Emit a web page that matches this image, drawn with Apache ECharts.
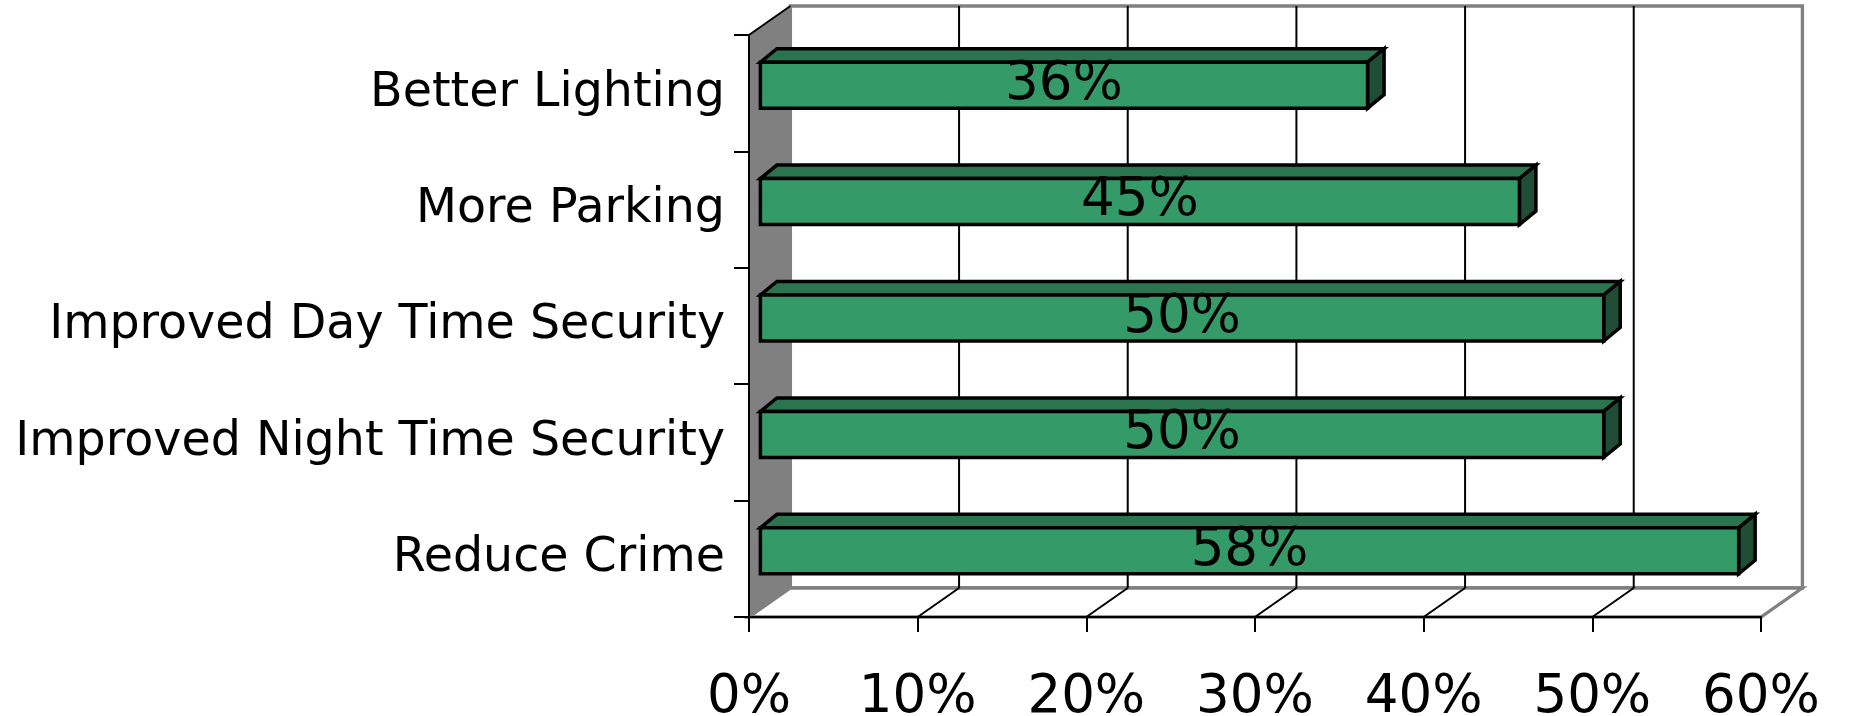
<!DOCTYPE html>
<html>
<head>
<meta charset="utf-8">
<title>Improvements wanted</title>
<script src="https://cdn.jsdelivr.net/npm/echarts@6/dist/echarts.min.js"></script>
<style>
  html, body { margin: 0; padding: 0; background: #ffffff; }
  #chart { width: 1849px; height: 716px; }
</style>
</head>
<body>
<div id="chart"></div>
<script>
// Survey answers, top to bottom
const categories = [
  'Better Lighting',
  'More Parking',
  'Improved Day Time Security',
  'Improved Night Time Security',
  'Reduce Crime'
];
// Share of respondents (%)
const shares = [36, 45, 50, 50, 58];
// Value axis ticks (%)
const xTicks = [0, 10, 20, 30, 40, 50, 60];

// Oblique projection of the 3D box (pixels)
const WALL_DX = 41.4, WALL_DY = -29;     // full depth of the plot box
const BAR_DX = 11.4, BAR_DY = -8;        // front face of each bar sits this deep
const BAR_DEPTH_DX = 16.5, BAR_DEPTH_DY = -13.5; // thickness of each bar
const BAR_RATIO = 0.395;                 // bar height / category band

const FONT = 'DejaVu Sans';
const GREEN_FRONT = '#349A68';
const GREEN_TOP = '#2A7550';
const GREEN_SIDE = '#1F4D36';
const WALL_GREY = '#808080';

const chart = echarts.init(document.getElementById('chart'), null, { renderer: 'canvas' });

function renderWalls(params, api) {
  const cs = params.coordSys;
  const L = cs.x, T = cs.y, R = cs.x + cs.width, B = cs.y + cs.height;
  const kids = [];
  // left side wall
  kids.push({
    type: 'polygon',
    shape: { points: [[L, T], [L + WALL_DX, T + WALL_DY], [L + WALL_DX, B + WALL_DY], [L, B]] },
    style: { fill: WALL_GREY, stroke: null }
  });
  // back wall
  kids.push({
    type: 'rect',
    shape: { x: L + WALL_DX, y: T + WALL_DY, width: R - L, height: B - T },
    style: { fill: '#ffffff', stroke: WALL_GREY, lineWidth: 3.3 }
  });
  // floor
  kids.push({
    type: 'polygon',
    shape: { points: [[L, B], [L + WALL_DX, B + WALL_DY], [R + WALL_DX, B + WALL_DY], [R, B]] },
    style: { fill: '#ffffff', stroke: WALL_GREY, lineWidth: 3.3 }
  });
  // gridlines on the back wall and across the floor
  const inner = xTicks.slice(1, xTicks.length - 1);
  inner.forEach(function (t) {
    const x = api.coord([t, 0])[0];
    kids.push({
      type: 'line',
      shape: { x1: x + WALL_DX, y1: T + WALL_DY, x2: x + WALL_DX, y2: B + WALL_DY },
      style: { stroke: '#000000', lineWidth: 2 }
    });
    kids.push({
      type: 'line',
      shape: { x1: x + WALL_DX, y1: B + WALL_DY, x2: x, y2: B },
      style: { stroke: '#000000', lineWidth: 2 }
    });
  });
  // top edge of the side wall
  kids.push({
    type: 'line',
    shape: { x1: L, y1: T, x2: L + WALL_DX, y2: T + WALL_DY },
    style: { stroke: '#000000', lineWidth: 2 }
  });
  return { type: 'group', children: kids };
}

function renderBar(params, api) {
  const v = api.value(0);
  const ci = api.value(1);
  const p0 = api.coord([0, ci]);
  const p1 = api.coord([v, ci]);
  const band = api.size([0, 1])[1];
  const h = band * BAR_RATIO;
  const xl = p0[0] + BAR_DX, xr = p1[0] + BAR_DX;
  const cy = p0[1] + BAR_DY;
  const yt = cy - h / 2, yb = cy + h / 2;
  const dx = BAR_DEPTH_DX, dy = BAR_DEPTH_DY;
  const edge = { stroke: '#000000', lineWidth: 3.5, lineJoin: 'miter' };
  return {
    type: 'group',
    children: [
      {
        type: 'polygon',
        shape: { points: [[xl, yt], [xr, yt], [xr + dx, yt + dy], [xl + dx, yt + dy]] },
        style: Object.assign({ fill: GREEN_TOP }, edge)
      },
      {
        type: 'polygon',
        shape: { points: [[xr, yt], [xr + dx, yt + dy], [xr + dx, yb + dy], [xr, yb]] },
        style: Object.assign({ fill: GREEN_SIDE }, edge)
      },
      {
        type: 'rect',
        shape: { x: xl, y: yt, width: xr - xl, height: yb - yt },
        style: Object.assign({ fill: GREEN_FRONT }, edge)
      },
      {
        type: 'text',
        x: (xl + xr) / 2,
        y: cy,
        style: {
          text: v + '%',
          fill: '#000000',
          font: '53px "' + FONT + '"',
          align: 'center',
          verticalAlign: 'middle'
        }
      }
    ]
  };
}

chart.setOption({
  animation: false,
  backgroundColor: '#ffffff',
  grid: {
    left: 749, right: 88, top: 35, bottom: 99,
    containLabel: false,
    outerBoundsMode: 'none'
  },
  xAxis: {
    type: 'value',
    min: 0,
    max: 60,
    interval: 10,
    z: 10,
    axisLine: { show: true, lineStyle: { color: '#000000', width: 2 } },
    axisTick: { show: true, length: 15, lineStyle: { color: '#000000', width: 2 } },
    splitLine: { show: false },
    axisLabel: {
      formatter: '{value}%',
      fontFamily: FONT,
      fontSize: 53,
      color: '#000000',
      margin: 55
    }
  },
  yAxis: {
    type: 'category',
    inverse: true,
    data: categories,
    z: 10,
    axisLine: { show: true, lineStyle: { color: '#000000', width: 2 } },
    axisTick: { show: true, length: 15, lineStyle: { color: '#000000', width: 2 } },
    splitLine: { show: false },
    axisLabel: {
      fontFamily: FONT,
      fontSize: 47.5,
      color: '#000000',
      margin: 24,
      padding: [16, 0, 0, 0]
    }
  },
  series: [
    {
      type: 'custom',
      name: 'walls',
      z: 1,
      silent: true,
      renderItem: renderWalls,
      data: [[0, 0]],
      encode: { x: 0, y: 1 }
    },
    {
      type: 'custom',
      name: 'share',
      z: 3,
      renderItem: renderBar,
      data: shares.map(function (v, i) { return [v, i]; }),
      encode: { x: 0, y: 1 }
    }
  ]
});
</script>
</body>
</html>
